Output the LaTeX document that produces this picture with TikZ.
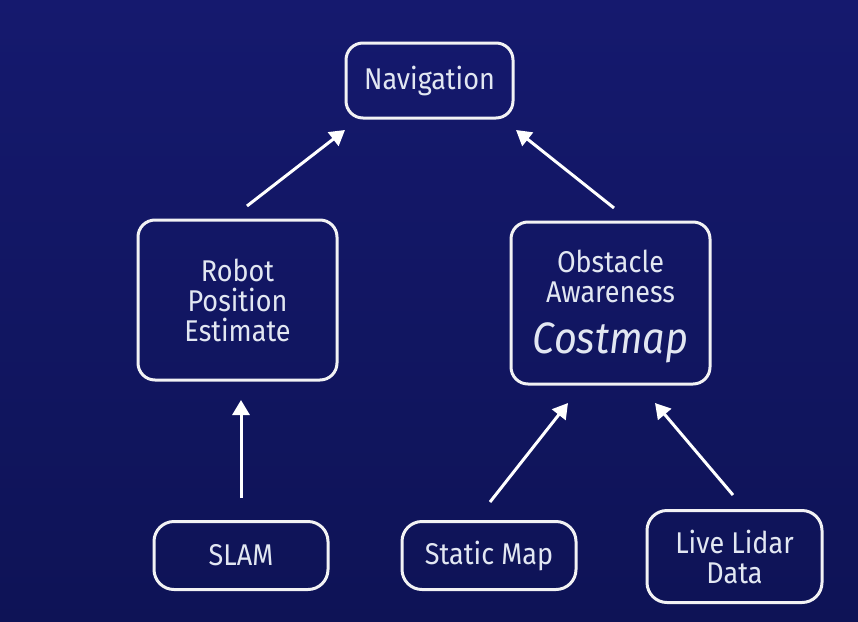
\documentclass[tikz,border=0pt]{standalone}
\usepackage{fontspec}
\setmainfont{Fira Sans}[FakeStretch=0.9]
\usetikzlibrary{arrows.meta}
\definecolor{bgtop}{RGB}{21,25,110}
\definecolor{bgbot}{RGB}{14,19,86}
\definecolor{boxline}{RGB}{242,242,244}
\definecolor{txt}{RGB}{226,231,242}
\tikzset{
  box/.style={draw=boxline, line width=3pt, rounded corners=17pt, text=txt,
    align=center, inner sep=0pt, font=\fontsize{30}{30}\selectfont},
  arr/.style={draw=white, line width=3pt, -{Triangle[length=15pt,width=17pt]}}
}
\begin{document}
\begin{tikzpicture}[x=1pt,y=-1pt]
\shade[top color=bgtop, bottom color=bgbot] (0,0) rectangle (858,621);
\useasboundingbox (0,0) rectangle (858,621);

\node[box, minimum width=167pt, minimum height=75pt] (nav) at (429.5,80.5) {Navigation};
\node[box, minimum width=199pt, minimum height=160pt] (rpe) at (237.5,300) {Robot\\Position\\Estimate};
\node[box, minimum width=199pt, minimum height=162pt] (obs) at (610.5,303) {};
\node[text=txt, align=center, inner sep=0pt, font=\fontsize{30}{30}\selectfont, anchor=base] (obst) at (610.5,302) {Obstacle\\Awareness};
\node[text=txt, inner sep=0pt, font=\fontsize{44}{44}\selectfont\itshape, anchor=base] (cost) at (610.5,353) {Costmap};
\node[box, rounded corners=20pt, minimum width=174pt, minimum height=68pt] (slam) at (241,555.5) {SLAM};
\node[box, rounded corners=20pt, minimum width=174pt, minimum height=68pt] (smap) at (489,555.5) {Static Map};
\node[box, rounded corners=20pt, minimum width=175pt, minimum height=92pt] (lidar) at (734.5,556.5) {Live Lidar\\Data};

\coordinate (a1s) at (247,206);  \coordinate (a1e) at (345,130);
\coordinate (a2s) at (614,208);  \coordinate (a2e) at (516,130);
\coordinate (a3s) at (241,498);  \coordinate (a3e) at (241,400);
\coordinate (a4s) at (490,502);  \coordinate (a4e) at (568,403);
\coordinate (a5s) at (733,495);  \coordinate (a5e) at (655,403);

\draw[arr] (a1s) -- (a1e);
\draw[arr] (a2s) -- (a2e);
\draw[arr] (a3s) -- (a3e);
\draw[arr] (a4s) -- (a4e);
\draw[arr] (a5s) -- (a5e);
\end{tikzpicture}
\end{document}
